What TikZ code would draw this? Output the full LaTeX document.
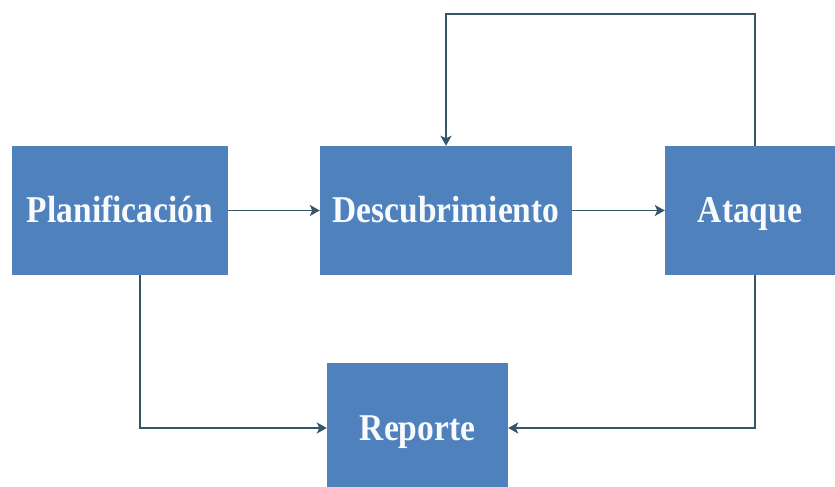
\documentclass[tikz,border=0pt]{standalone}
\usepackage{fontspec}
\setmainfont{Liberation Serif}
\usetikzlibrary{arrows.meta}
\definecolor{boxblue}{HTML}{4F81BD}
\definecolor{linkcol}{HTML}{35566A}
% tall bold label for the process boxes
\newcommand{\phaselabel}[1]{\scalebox{1}[1.13]{#1}}
\begin{document}
\begin{tikzpicture}[x=1pt,y=1pt,
  phase/.style={fill=boxblue, draw=none, text=white!96!boxblue, inner sep=0pt,
    text height=25pt, text depth=0pt, minimum height=129pt,
    font=\fontsize{33.5}{38}\selectfont\bfseries},
  link/.style={draw=linkcol, line width=1.8pt,
    -{Stealth[length=10pt,width=11pt,inset=2.5pt]}}]
  \useasboundingbox (0,0) rectangle (835,487);
  \clip (0,0) rectangle (835,487);
  \fill[white] (0,0) rectangle (835,487);

  % process boxes
  \node[phase, minimum width=216pt] (plan) at (120,276.5) {\phaselabel{Planificación}};
  \node[phase, minimum width=252pt] (desc) at (446,276.5) {\phaselabel{Descubrimiento}};
  \node[phase, minimum width=170pt] (ataq) at (750,276.5) {\phaselabel{Ataque}};
  \node[phase, minimum width=181pt] (rep) at (417.5,59) {\phaselabel{Reporte}};

  % routing points
  \coordinate (loopR) at (755,473);
  \coordinate (planDrop) at (140,0);
  \coordinate (ataqDrop) at (755,0);

  % connectors
  \draw[link] (plan.east) -- (desc.west);
  \draw[link] (desc.east) -- (ataq.west);
  \draw[link] (ataq.north -| loopR) -- (loopR) -| (desc.north);
  \draw[link] (plan.south -| planDrop) |- (rep.west);
  \draw[link] (ataq.south -| ataqDrop) |- (rep.east);
\end{tikzpicture}
\end{document}
